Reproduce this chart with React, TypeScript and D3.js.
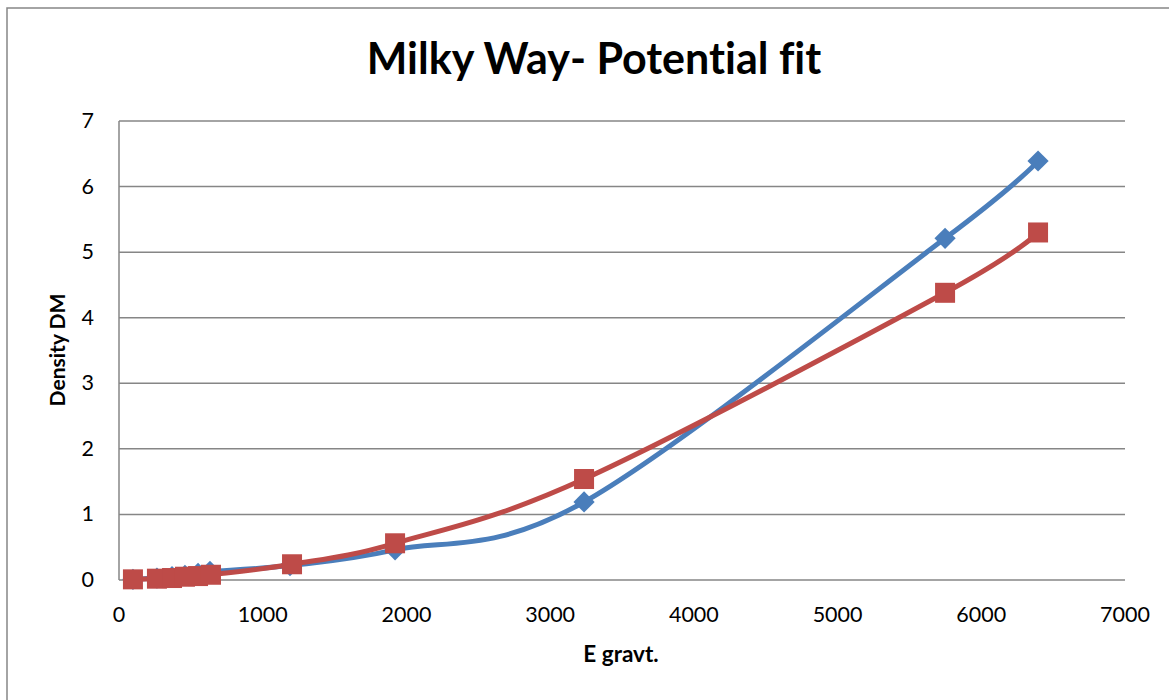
import React from "react";
import * as d3 from "d3";

const xTicks = [0, 1000, 2000, 3000, 4000, 5000, 6000, 7000];
const yTicks = [0, 1, 2, 3, 4, 5, 6, 7];

const blueX = [97, 264, 369, 459, 550, 633, 1190, 1921, 3236, 5748, 6395];
const blueY = [0.01, 0.03, 0.05, 0.07, 0.1, 0.13, 0.22, 0.46, 1.19, 5.21, 6.39];
const redX = [97, 264, 369, 459, 550, 640, 1204, 1921, 3236, 5748, 6395];
const redY = [0.01, 0.02, 0.03, 0.05, 0.06, 0.08, 0.24, 0.56, 1.54, 4.38, 5.3];

const W = 1169;
const H = 700;
const FONT = "Lato, 'Open Sans', sans-serif";

export default function App() {
  const x = d3.scaleLinear().domain([0, 7000]).range([119, 1125]);
  const y = d3.scaleLinear().domain([0, 7]).range([580, 121]);
  const line = d3
    .line<[number, number]>()
    .x((d) => x(d[0]))
    .y((d) => y(d[1]))
    .curve(d3.curveCardinal.tension(0));
  const blue: [number, number][] = blueX.map((v, i) => [v, blueY[i]]);
  const red: [number, number][] = redX.map((v, i) => [v, redY[i]]);
  const blueC = "#4A7EBB";
  const redC = "#BE4B48";
  return (
    <svg
      width={W}
      height={H}
      style={{ position: "absolute", left: 0, top: 0, background: "#fff", fontVariantLigatures: "none" }}
    >
      <rect x={7} y={8} width={W} height={H} fill="#fff" stroke="#868686" strokeWidth={1.5} />
      <text
        x={594}
        y={74}
        textAnchor="middle"
        fontFamily={FONT}
        fontWeight="bold"
        fontSize={43}
        fill="#000"
        style={{ fontVariantLigatures: "none", fontFeatureSettings: "'liga' 0" }}
      >
        Milky Way- Potential fit
      </text>
      {yTicks.map((t) => (
        <g key={"y" + t}>
          <line x1={119} x2={1125} y1={y(t)} y2={y(t)} stroke="#868686" strokeWidth={1.5} />
          <text x={94} y={y(t) + 7} textAnchor="end" fontFamily={FONT} fontSize={21.5} fill="#000">
            {t}
          </text>
        </g>
      ))}
      <line x1={119} x2={119} y1={121} y2={580} stroke="#868686" strokeWidth={1.5} />
      {xTicks.map((t) => (
        <text key={"x" + t} x={x(t)} y={622} textAnchor="middle" fontFamily={FONT} fontSize={21.5} fill="#000">
          {t}
        </text>
      ))}
      <text x={621} y={662} textAnchor="middle" fontFamily={FONT} fontWeight="bold" fontSize={22.5} fill="#000">
        E gravt.
      </text>
      <text
        transform="translate(65,350) rotate(-90)"
        textAnchor="middle"
        fontFamily={FONT}
        fontWeight="bold"
        fontSize={21}
        fill="#000"
      >
        Density DM
      </text>
      <path d={line(blue) || ""} fill="none" stroke={blueC} strokeWidth={5} strokeLinejoin="round" />
      {blue.map((d, i) => (
        <rect
          key={"b" + i}
          x={-7.5}
          y={-7.5}
          width={15}
          height={15}
          fill={blueC}
          transform={`translate(${x(d[0])},${y(d[1])}) rotate(45)`}
        />
      ))}
      <path d={line(red) || ""} fill="none" stroke={redC} strokeWidth={5} strokeLinejoin="round" />
      {red.map((d, i) => (
        <rect key={"r" + i} x={x(d[0]) - 10} y={y(d[1]) - 10} width={20} height={20} fill={redC} />
      ))}
    </svg>
  );
}
